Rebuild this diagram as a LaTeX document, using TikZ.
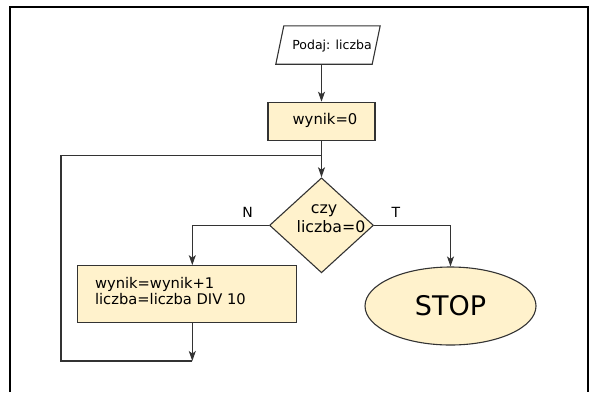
\documentclass[tikz,border=0pt]{standalone}
\usepackage{fontspec}
\setmainfont{DejaVu Sans}
\usetikzlibrary{shapes.geometric,arrows.meta}
\definecolor{cream}{HTML}{FFF2CC}
\definecolor{edge}{HTML}{333333}
\begin{document}
\begin{tikzpicture}[x=1pt,y=-1pt,
  box/.style={draw=edge, fill=cream, line width=1.1pt, inner sep=0pt},
  arr/.style={draw=edge, line width=1.1pt, -{Stealth[length=10pt,width=7pt,inset=2.5pt]}},
  ln/.style={draw=edge, line width=1.1pt},
  lbl/.style={font=\fontsize{14}{16}\selectfont}
  ]
\useasboundingbox (0,0) rectangle (597,392);
\draw[line width=2pt] (10,392) -- (10,7) -- (588,7) -- (588,392);
% input
\node[inner sep=0pt, minimum width=96pt, minimum height=38pt] (in) at (328,45) {};
\draw[draw=edge, line width=1.1pt] ([xshift=4pt]in.north west) -- ([xshift=4pt]in.north east)
   -- ([xshift=-4pt]in.south east) -- ([xshift=-4pt]in.south west) -- cycle;
\node[font=\fontsize{12.5}{14}\selectfont] (intext) at (332,46.5) {Podaj: liczba};
% wynik=0
\node[box, minimum width=107pt, minimum height=38.5pt] (a) at (321.5,121.5) {};
\node[font=\fontsize{14.8}{17}\selectfont] (at) at (325,120) {wynik=0};
\path (a.south) ++(0,14.5) coordinate (j);
% decision
\node[box, diamond, minimum width=104pt, minimum height=95pt] (d) at (321.5,225.3) {};
\node[font=\fontsize{15.8}{19}\selectfont, align=center] (dt) at (331,219) {czy\hspace*{14pt}\\liczba=0};
\node[lbl] (n) at (247.5,212) {N};
\node[lbl] (t) at (396,212) {T};
% process
\node[box, minimum width=219pt, minimum height=57pt] (b) at (186.8,294.2) {};
\node[font=\fontsize{14.7}{16.5}\selectfont, align=left, anchor=west] (bt) at (91.5,291) {wynik=wynik+1\\liczba=liczba DIV 10};
% stop
\node[box, ellipse, minimum width=171pt, minimum height=78pt, font=\fontsize{27}{30}\selectfont] (e) at (450.5,306) {STOP};
% connectors
\coordinate (k) at (192.3,361);
\draw[arr] (in.south -| a.north) -- (a.north);
\draw[arr] (a.south) -- (d.north);
\draw[arr] (d.west) -| ([xshift=5.5pt]b.north);
\draw[arr] (d.east) -| (e.north);
\draw[arr] ([xshift=5.5pt]b.south) -- (k);
\draw[ln] (k) -- ++(-131.3,0) |- (j);
\end{tikzpicture}
\end{document}
